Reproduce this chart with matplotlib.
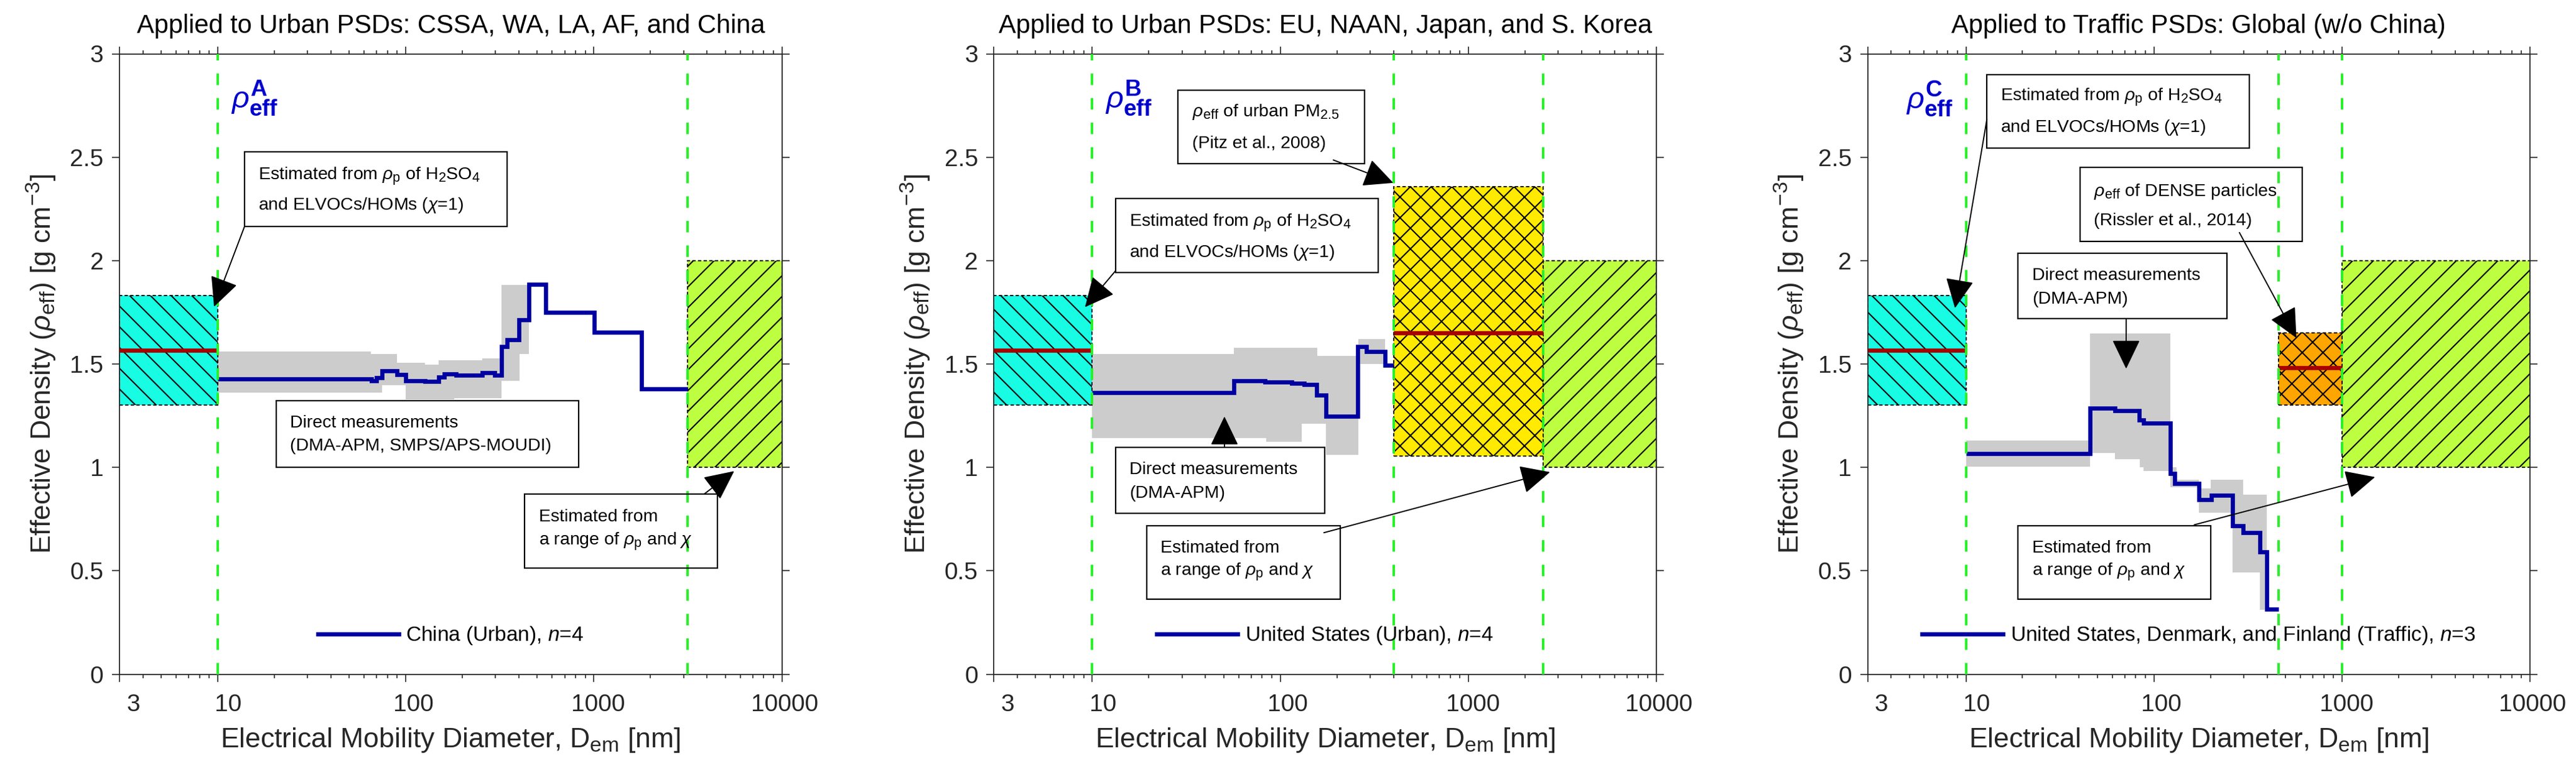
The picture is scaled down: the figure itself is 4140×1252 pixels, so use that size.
import matplotlib
matplotlib.use('Agg')
import matplotlib.pyplot as plt
import matplotlib.transforms as mtransforms
from matplotlib.patches import Rectangle

# ---------------- data ----------------
x_ticks = [3, 10, 100, 1000, 10000]
x_tick_labels = ['3', '10', '100', '1000', '10000']
y_ticks = [0, 0.5, 1, 1.5, 2, 2.5, 3]
y_tick_labels = ['0', '0.5', '1', '1.5', '2', '2.5', '3']

titles = ['Applied to Urban PSDs: CSSA, WA, LA, AF, and China',
          'Applied to Urban PSDs: EU, NAAN, Japan, and S. Korea',
          'Applied to Traffic PSDs: Global (w/o China)']
panel_letters = ['A', 'B', 'C']
legend_labels = ['China (Urban), $n$=4',
                 'United States (Urban), $n$=4',
                 'United States, Denmark, and Finland (Traffic), $n$=3']

# Panel A: China (Urban)
a_line_edges = [10, 65.8, 70, 75, 90, 100, 126, 150, 160, 185, 254, 297, 324, 347, 399, 451, 556, 1007, 1799, 3162]
a_line_rho = [1.428, 1.420, 1.435, 1.468, 1.449, 1.418, 1.415, 1.438, 1.453, 1.445, 1.458, 1.445, 1.584, 1.616,
              1.715, 1.885, 1.749, 1.654, 1.381]
a_band_edges = [10, 65, 75, 90, 100, 126, 150, 181, 254, 322, 403, 451]
a_band_hi = [1.559, 1.549, 1.549, 1.506, 1.506, 1.498, 1.518, 1.518, 1.528, 1.883, 1.883]
a_band_lo = [1.361, 1.361, 1.398, 1.398, 1.328, 1.328, 1.328, 1.336, 1.336, 1.418, 1.549]

# Panel B: United States (Urban)
b_line_edges = [10, 56.6, 83, 115, 134, 156, 175, 258, 286, 362, 400]
b_line_rho = [1.363, 1.420, 1.414, 1.408, 1.402, 1.351, 1.248, 1.585, 1.561, 1.494]
b_band_edges = [10, 56.5, 84, 130, 157, 175, 260, 362]
b_band_hi = [1.549, 1.578, 1.578, 1.578, 1.540, 1.540, 1.619]
b_band_lo = [1.142, 1.142, 1.124, 1.212, 1.212, 1.062, 1.500]

# Panel C: Traffic
c_line_edges = [10, 45.7, 62.2, 83.4, 87.9, 121.9, 128.8, 173.8, 201.9, 261, 299, 367, 399, 460]
c_line_rho = [1.068, 1.286, 1.275, 1.229, 1.213, 0.970, 0.923, 0.844, 0.866, 0.719, 0.685, 0.592, 0.314]
c_band_edges = [10, 45.7, 62.2, 84, 88, 122, 132, 174, 201, 262, 299, 367, 399]
c_band_hi = [1.130, 1.648, 1.648, 1.648, 1.648, 1.001, 0.941, 0.899, 0.941, 0.941, 0.869, 0.869]
c_band_lo = [1.003, 1.070, 1.040, 0.999, 0.982, 0.903, 0.903, 0.781, 0.781, 0.493, 0.493, 0.312]

# Shaded estimate ranges
h2so4_dem = [3, 10]
h2so4_rho = [1.30, 1.83]
h2so4_mean = 1.565
range_rho = [1.0, 2.0]
a_range_dem = [3162, 10000]
b_range_dem = [2500, 10000]
c_range_dem = [1000, 10000]
pitz_dem = [400, 2500]
pitz_rho = [1.055, 2.359]
pitz_mean = 1.650
dense_dem = [460, 1000]
dense_rho = [1.302, 1.650]
dense_mean = 1.482
a_bounds = [10, 3162]
b_bounds = [10, 400, 2500]
c_bounds = [10, 460, 1000]

# ---------------- style ----------------
plt.rcParams['font.family'] = ['Liberation Sans', 'DejaVu Sans']
plt.rcParams['mathtext.fontset'] = 'custom'
plt.rcParams['mathtext.rm'] = 'Liberation Sans'
plt.rcParams['mathtext.it'] = 'Liberation Sans:italic'
plt.rcParams['mathtext.bf'] = 'Liberation Sans:bold'
plt.rcParams['hatch.linewidth'] = 1.5

# slightly larger sub/superscripts (MATLAB-like)
try:
    import matplotlib._mathtext as _mt
    _mt.SHRINK_FACTOR = 0.76
except Exception:
    pass

AXC = '#262626'
BLUE = '#0000A0'
LBLUE = '#0000CC'
RED = '#A80000'
GRAY = '#CCCCCC'
CYAN = '#18FCE4'
LIME = '#BDFF40'
YELLOW = '#FFEA00'
ORANGE = '#FFA500'
GREEN = '#2AF02A'

T_h2so4 = [r'Estimated from $\rho_\mathrm{p}$ of H$_2$SO$_4$', r'and ELVOCs/HOMs ($\chi$=1)']
T_directA = ['Direct measurements', '(DMA-APM, SMPS/APS-MOUDI)']
T_direct = ['Direct measurements', '(DMA-APM)']
T_range = ['Estimated from', r'a range of $\rho_\mathrm{p}$ and $\chi$']
T_pitz = [r'$\rho_\mathrm{eff}$ of urban PM$_{2.5}$', '(Pitz et al., 2008)']
T_dense = [r'$\rho_\mathrm{eff}$ of DENSE particles', '(Rissler et al., 2014)']

W, H = 4140, 1252
fig = plt.figure(figsize=(W / 100, H / 100), dpi=100)
lefts = [192, 1597.4, 3001.5]
axw = 1064.6
bottom, axh = 1252 - 1083.5, 997

panels = [
    dict(edges=a_line_edges, rho=a_line_rho, bedges=a_band_edges, bhi=a_band_hi, blo=a_band_lo,
         bounds=a_bounds, rdem=a_range_dem, extra=None, rho_x=0.168,
         boxes=[(0.1888, 0.5852, 0.7217, 0.8420, 0.2095, T_h2so4, 0.8074, 0.7583),
                (0.2367, 0.6932, 0.3340, 0.4411, 0.2574, T_directA, 0.4077, 0.3706),
                (0.6115, 0.9027, 0.1710, 0.2906, 0.6331, T_range, 0.2564, 0.2182)],
         arrows=[((0.1888, 0.7217), (0.1428, 0.5923)),
                 ((0.8830, 0.2906), (0.9280, 0.3273))]),
    dict(edges=b_line_edges, rho=b_line_rho, bedges=b_band_edges, bhi=b_band_hi, blo=b_band_lo,
         bounds=b_bounds, rdem=b_range_dem, extra=(pitz_dem, pitz_rho, pitz_mean, YELLOW), rho_x=0.168,
         boxes=[(0.2776, 0.5594, 0.8232, 0.9417, 0.2993, T_pitz, 0.9089, 0.8585),
                (0.1836, 0.5803, 0.6477, 0.7663, 0.2046, T_h2so4, 0.7319, 0.6821),
                (0.1836, 0.4990, 0.2592, 0.3658, 0.2046, T_direct, 0.3321, 0.2944),
                (0.2306, 0.5225, 0.1206, 0.2392, 0.2515, T_range, 0.2063, 0.1695)],
         arrows=[((0.5124, 0.8288), (0.6029, 0.7920)),
                 ((0.1836, 0.6502), (0.1375, 0.5917)),
                 ((0.3480, 0.3658), (0.3480, 0.4154)),
                 ((0.4981, 0.2280), (0.8394, 0.3257))]),
    dict(edges=c_line_edges, rho=c_line_rho, bedges=c_band_edges, bhi=c_band_hi, blo=c_band_lo,
         bounds=c_bounds, rdem=c_range_dem, extra=(dense_dem, dense_rho, dense_mean, ORANGE), rho_x=0.058,
         boxes=[(0.1801, 0.5766, 0.8480, 0.9666, 0.2009, T_h2so4, 0.9345, 0.8842),
                (0.3205, 0.6561, 0.6974, 0.8168, 0.3414, T_dense, 0.7809, 0.7335),
                (0.2266, 0.5421, 0.5732, 0.6790, 0.2483, T_direct, 0.6454, 0.6077),
                (0.2266, 0.5180, 0.1206, 0.2392, 0.2483, T_range, 0.2063, 0.1695)],
         arrows=[((0.1801, 0.8945), (0.1319, 0.5901)),
                 ((0.5613, 0.7118), (0.6473, 0.5420)),
                 ((0.3903, 0.5732), (0.3903, 0.4923)),
                 ((0.4931, 0.2407), (0.7660, 0.3177))]),
]

label_dx = [22, 17, 12, 7, 4]

for i, p in enumerate(panels):
    ax = fig.add_axes([lefts[i] / W, bottom / H, axw / W, axh / H])
    ax.set_xscale('log')
    ax.set_xlim(3, 10000)
    ax.set_ylim(0, 3)

    # gray variability band
    ax.stairs(p['bhi'], p['bedges'], baseline=p['blo'], fill=True, color=GRAY, lw=0, zorder=1)

    # estimate boxes
    def rect(dem, rho, fc, hatch):
        ax.add_patch(Rectangle((dem[0], rho[0]), dem[1] - dem[0], rho[1] - rho[0], facecolor=fc,
                               edgecolor='k', hatch=hatch, lw=1.3, linestyle=(0, (3, 2)), zorder=2))
    rect(h2so4_dem, h2so4_rho, CYAN, '\\')
    ax.plot(h2so4_dem, [h2so4_mean, h2so4_mean], color=RED, lw=4.8, solid_capstyle='butt', zorder=3)
    rect(p['rdem'], range_rho, LIME, '/')
    if p['extra'] is not None:
        dem, rho, mean, col = p['extra']
        rect(dem, rho, col, 'x')
        ax.plot(dem, [mean, mean], color=RED, lw=4.8, solid_capstyle='butt', zorder=3)

    # measured line
    ln = ax.stairs(p['rho'], p['edges'], baseline=None, color=BLUE, lw=4.8, zorder=4,
                   label=legend_labels[i])

    # size boundaries
    for b in p['bounds']:
        ax.axvline(b, color=GREEN, lw=2.9, linestyle=(0, (4.6, 5.2)), zorder=5)

    # axes styling
    ax.set_xticks(x_ticks)
    ax.set_xticklabels(x_tick_labels)
    ax.set_yticks(y_ticks)
    ax.set_yticklabels(y_tick_labels)
    for sp in ax.spines.values():
        sp.set_color(AXC)
        sp.set_linewidth(1.3)
    ax.tick_params(which='both', direction='out', top=True, right=True, colors=AXC, width=1.2)
    ax.tick_params(which='major', length=8.5, labelsize=28)
    ax.tick_params(which='minor', length=4.5)
    ax.tick_params(axis='x', which='major', pad=14)
    ax.tick_params(axis='y', which='major', pad=10)
    for lab, dx in zip(ax.xaxis.get_majorticklabels(), label_dx):
        lab.set_transform(lab.get_transform() + mtransforms.ScaledTranslation(dx / 100, 0, fig.dpi_scale_trans))

    ax.set_xlabel(r'Electrical Mobility Diameter, D$_\mathrm{em}$ [nm]', fontsize=32, color=AXC, labelpad=12)
    ax.set_ylabel(r'Effective Density ($\rho_\mathrm{eff}$) [g cm$^{-3}$]', fontsize=32, color=AXC, labelpad=14)
    ax.set_title(titles[i], fontsize=30, color='k', pad=24)

    # rho_eff label
    ax.text(p['rho_x'], 0.928, r'$\rho^{\mathbf{%s}}_{\mathbf{eff}}$' % panel_letters[i], transform=ax.transAxes,
            fontsize=35, color=LBLUE, ha='left', va='center', zorder=8)

    # annotation boxes
    for (x0, x1, y0, y1, tx, lines, fy1, fy2) in p['boxes']:
        ax.add_patch(Rectangle((x0, y0), x1 - x0, y1 - y0, transform=ax.transAxes, fill=False,
                               edgecolor='k', lw=1.6, zorder=9, clip_on=False))
        for s, fy in zip(lines, (fy1, fy2)):
            ax.text(tx, fy - 0.010, s, transform=ax.transAxes, fontsize=20.5, ha='left', va='baseline',
                    color='k', zorder=9)
    for (start, tip) in p['arrows']:
        ax.annotate('', xy=tip, xycoords='axes fraction', xytext=start, textcoords='axes fraction',
                    arrowprops=dict(arrowstyle='-|>,head_length=0.5,head_width=0.24', mutation_scale=60,
                                    lw=1.4, color='k', shrinkA=0, shrinkB=0), zorder=9)

    ax.legend(handles=[ln], loc='center', bbox_to_anchor=(0.5, 0.0617), frameon=False, fontsize=24,
              handlelength=3.9, handletextpad=0.35, borderpad=0, borderaxespad=0)

fig.savefig('out.png', dpi=100)
